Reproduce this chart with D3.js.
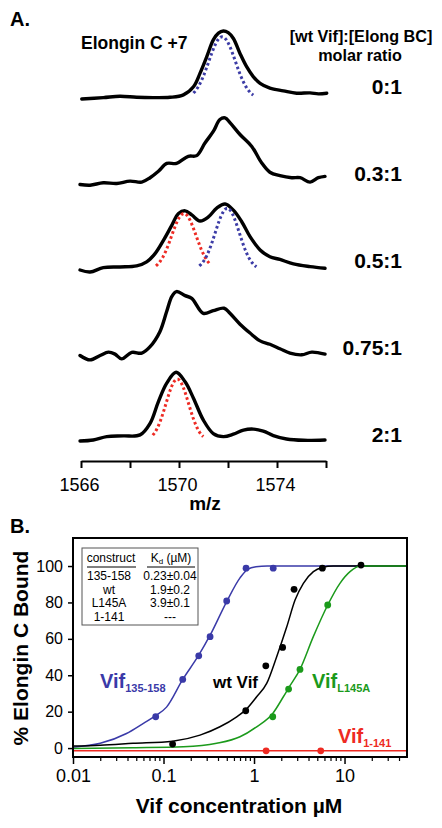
<!DOCTYPE html>
<html><head><meta charset="utf-8">
<script src="https://cdn.jsdelivr.net/npm/d3@7"></script>
<style>
body{margin:0;background:#fff}
svg{display:block}
text{font-family:"Liberation Sans",Arial,Helvetica,sans-serif}
</style>
</head><body>
<svg id="chart" width="442" height="828"></svg>
<script>
// ---------- Panel A data ----------
const ratios = ["0:1", "0.3:1", "0.5:1", "0.75:1", "2:1"];
const mzTicks = [1566, 1568, 1570, 1572, 1574, 1576];
const mzLabels = [1566, 1570, 1574];
// [m/z, relative intensity %]
const spec0 = [[1566.03,0],[1566.91,2],[1567.59,4],[1568.27,2.5],[1568.95,2],[1569.63,2.5],[1570.18,6],[1570.59,18],[1570.86,38],[1571.13,62],[1571.40,87],[1571.61,97],[1571.81,100],[1572.01,97.5],[1572.22,89],[1572.49,67],[1572.76,47.5],[1573.03,33],[1573.31,23],[1573.71,16],[1574.26,12],[1574.80,8.5],[1575.35,9],[1575.69,7.5],[1576.03,8.5]];
const spec1 = [[1565.96,0],[1566.37,-1],[1566.91,2.5],[1567.46,1.5],[1568.00,5],[1568.48,3.5],[1568.82,10],[1569.16,19.5],[1569.50,31],[1569.90,31],[1570.38,41.5],[1570.72,42.5],[1571.06,61],[1571.40,78],[1571.67,95.5],[1571.88,98],[1572.08,91],[1572.49,73.5],[1572.97,56],[1573.37,32],[1573.71,18],[1574.12,13],[1574.60,10],[1574.94,10],[1575.35,3.5],[1575.69,10],[1575.96,12]];
const spec2 = [[1565.96,0],[1566.37,-3],[1566.91,3.5],[1567.59,4.5],[1568.27,6],[1568.68,12],[1569.03,24.5],[1569.37,44],[1569.71,66],[1569.98,83],[1570.25,87],[1570.52,81],[1570.86,72],[1571.20,78],[1571.54,91],[1571.88,97],[1572.22,88],[1572.56,71],[1572.90,49],[1573.31,29.5],[1573.71,19.5],[1574.12,15.5],[1574.67,9],[1575.35,5],[1575.96,2.5]];
const spec3 = [[1565.96,0],[1566.37,-6.5],[1566.78,0],[1567.12,5],[1567.39,2],[1567.66,-5],[1568.07,4.5],[1568.48,3.5],[1568.82,13],[1569.22,35],[1569.50,65],[1569.71,87],[1569.90,94],[1570.25,88],[1570.52,84],[1570.99,62],[1571.40,66],[1571.84,69.5],[1572.08,62],[1572.49,46],[1572.90,33],[1573.31,21.5],[1573.71,16.5],[1574.12,10],[1574.53,3.5],[1575.01,1],[1575.42,5],[1575.96,2]];
const spec4 = [[1565.96,0],[1566.50,1.5],[1567.05,6.5],[1567.73,7.5],[1568.41,9],[1568.82,26],[1569.16,58],[1569.50,85],[1569.88,101],[1570.25,87],[1570.59,63],[1570.99,31],[1571.40,11],[1571.81,6.5],[1572.22,10],[1572.63,16],[1573.03,17.5],[1573.44,14.5],[1573.85,8],[1574.39,3],[1575.08,1],[1575.96,1.5]];
const spectra = [spec0, spec1, spec2, spec3, spec4];
// Gaussian fits: which trace, species, centre, amplitude, sigma, drawn range
const fitTrace  = ["0:1", "0.5:1", "0.5:1", "2:1"];
const fitSpecies = ["free", "bound", "free", "bound"];
const fitCenter = [1571.76, 1570.20, 1571.97, 1569.93];
const fitAmp    = [91.6, 83, 90.7, 91];
const fitSigma  = [0.54, 0.50, 0.49, 0.46];
const fitFrom   = [1570.59, 1569.06, 1570.83, 1568.93];
const fitTo     = [1573.03, 1571.29, 1573.16, 1570.99];

// ---------- Panel B data ----------
const concTicks = [0.01, 0.1, 1, 10];
const pctTicks = [0, 20, 40, 60, 80, 100];
const seriesNames = ["Vif135-158", "wt Vif", "VifL145A", "Vif1-141"];
const ptsBlue  = [[0.082,17.2],[0.163,37.7],[0.245,50.7],[0.327,61.2],[0.499,80.8],[0.817,98.8],[1.63,98.8]];
const ptsBlack = [[0.126,2.2],[0.81,20.5],[1.35,45.2],[2.07,55.3],[2.77,87.2],[5.69,98.8],[15.2,100.5]];
const ptsGreen = [[1.61,17.2],[2.41,32.4],[3.22,43.2],[6.52,78.6]];
const ptsRed   = [[1.36,-1.5],[5.46,-1.5]];
const fitBlue  = [[0.01,0.5],[0.02,2.6],[0.039,8],[0.06,13.6],[0.082,17.8],[0.108,22.5],[0.163,37.7],[0.245,51],[0.327,62],[0.499,80.5],[0.70,93.5],[0.85,98.2],[1.05,99.6],[1.4,100],[49,100]];
const fitBlack = [[0.01,1.1],[0.02,1.6],[0.046,2.6],[0.126,3.8],[0.253,7.1],[0.42,11.7],[0.644,17.2],[0.81,21],[1.07,28.2],[1.38,35.5],[1.78,50.2],[2.30,66.6],[2.84,81.3],[3.51,90.5],[4.53,96.9],[5.69,99.2],[7.5,100],[49,100]];
const fitGreen = [[0.01,-0.2],[0.046,0.2],[0.166,0.7],[0.387,2.6],[0.70,6.2],[1.07,11.7],[1.61,19],[2.11,28.2],[2.41,33],[3.22,43.2],[4.52,61.2],[6.52,78.6],[8.9,90.5],[11.5,96.9],[15.2,100],[49,100]];
const fitRed   = [[0.01,-1.5],[49,-1.5]];
const tableConstruct = ["135-158", "wt", "L145A", "1-141"];
const tableKd = ["0.23\u00b10.04", "1.9\u00b10.2", "3.9\u00b10.1", "---"];

const svg = d3.select("#chart");
const FONT = '"Liberation Sans",Arial,Helvetica,sans-serif';

// ================= PANEL A =================
const xA = d3.scaleLinear().domain([1566, 1576]).range([81, 326]);
const baseA = d3.scalePoint().domain(ratios).range([99, 441]);
const labelA = d3.scalePoint().domain(ratios).range([94, 442]);
const yA = d3.scaleLinear().domain([0, 100]).range([0, -68]);

svg.append("text").attr("x", 10).attr("y", 26).attr("font-size", 20).attr("font-weight", "bold").text("A.");
svg.append("text").attr("x", 81).attr("y", 49).attr("font-size", 17.5).attr("font-weight", "bold").text("Elongin C +7");
svg.append("text").attr("x", 361).attr("y", 42).attr("text-anchor", "middle").attr("font-size", 16.2).attr("font-weight", "bold").text("[wt Vif]:[Elong BC]");
svg.append("text").attr("x", 360).attr("y", 60.5).attr("text-anchor", "middle").attr("font-size", 16.2).attr("font-weight", "bold").text("molar ratio");

const lineA = d3.line().x(d => xA(d[0])).y(d => yA(d[1])).curve(d3.curveCatmullRom.alpha(0.5));

ratios.forEach((r, i) => {
  const g = svg.append("g").attr("transform", `translate(0,${baseA(r)})`);
  g.append("path").datum(spectra[i]).attr("d", lineA)
    .attr("fill", "none").attr("stroke", "#000").attr("stroke-width", 3.4)
    .attr("stroke-linejoin", "round").attr("stroke-linecap", "round");
  svg.append("text").attr("x", 402).attr("y", labelA(r)).attr("text-anchor", "end")
    .attr("font-size", 21).attr("font-weight", "bold").text(r);
});

const speciesColor = {free: "#3c3ca6", bound: "#ee2b24"};
fitTrace.forEach((r, k) => {
  const pts = d3.range(0, 41).map(j => {
    const m = fitFrom[k] + (fitTo[k] - fitFrom[k]) * j / 40;
    return [m, fitAmp[k] * Math.exp(-((m - fitCenter[k]) ** 2) / (2 * fitSigma[k] ** 2))];
  });
  svg.append("g").attr("transform", `translate(0,${baseA(r)})`)
    .append("path").datum(pts).attr("d", d3.line().x(d => xA(d[0])).y(d => yA(d[1])))
    .attr("fill", "none").attr("stroke", speciesColor[fitSpecies[k]])
    .attr("stroke-width", 3).attr("stroke-dasharray", "2.6,2.6");
});

const axA = svg.append("g").attr("transform", "translate(0,461)")
  .call(d3.axisBottom(xA).tickValues(mzTicks).tickSize(7).tickSizeOuter(0).tickPadding(10)
    .tickFormat(d => mzLabels.includes(d) ? d : ""));
axA.select(".domain").attr("stroke-width", 2);
axA.selectAll(".tick line").attr("stroke-width", 2);
axA.selectAll(".tick text").attr("font-size", 18).attr("font-family", FONT).attr("dx", -2);
svg.append("text").attr("x", 205).attr("y", 510).attr("text-anchor", "middle").attr("font-size", 19).attr("font-weight", "bold").text("m/z");

// ================= PANEL B =================
const L = 73, R = 407, T = 538, B = 757;
const xB = d3.scaleLog().domain([0.01, 49]).range([L, R]);
const yB = d3.scaleLinear().domain([-4.9, 115.4]).range([B, T]);

svg.append("text").attr("x", 10).attr("y", 533).attr("font-size", 20).attr("font-weight", "bold").text("B.");

// axes
const axY = svg.append("g").attr("transform", `translate(${L},0)`)
  .call(d3.axisLeft(yB).tickValues(pctTicks).tickSize(5).tickPadding(5));
axY.select(".domain").remove();
axY.selectAll(".tick line").attr("stroke-width", 1.5);
axY.selectAll(".tick text").attr("font-size", 16).attr("font-family", FONT);

const minorTicks = [];
[0.01, 0.1, 1, 10].forEach(dec => { for (let m = 2; m <= 9; m++) { const v = dec * m; if (v <= 49) minorTicks.push(v); } });
const axXm = svg.append("g").attr("transform", `translate(0,${B})`)
  .call(d3.axisBottom(xB).tickValues(minorTicks).tickSize(4).tickFormat(""));
axXm.select(".domain").remove();
axXm.selectAll(".tick line").attr("stroke-width", 1.2);
const axX = svg.append("g").attr("transform", `translate(0,${B})`)
  .call(d3.axisBottom(xB).tickValues(concTicks).tickSize(7).tickPadding(5).tickFormat(d => d3.format("~g")(d)));
axX.select(".domain").remove();
axX.selectAll(".tick line").attr("stroke-width", 1.5);
axX.selectAll(".tick text").attr("font-size", 18).attr("font-family", FONT);

svg.append("text").attr("transform", `translate(28,648) rotate(-90)`).attr("text-anchor", "middle")
  .attr("font-size", 21).attr("font-weight", "bold").text("% Elongin C Bound");
svg.append("text").attr("x", 239).attr("y", 813).attr("text-anchor", "middle")
  .attr("font-size", 21).attr("font-weight", "bold").text("Vif concentration \u00b5M");

// curves and points
const colors = ["#3a3aa8", "#000000", "#1b9a1b", "#ee2a22"];
const fits = [fitBlue, fitBlack, fitGreen, fitRed];
const pts = [ptsBlue, ptsBlack, ptsGreen, ptsRed];
const plot = svg.append("g");
const clip = svg.append("clipPath").attr("id", "clipB").append("rect")
  .attr("x", L).attr("y", T).attr("width", R - L).attr("height", B - T);
const lineB = d3.line().x(d => xB(d[0])).y(d => yB(d[1])).curve(d3.curveMonotoneX);
fits.forEach((f, i) => {
  plot.append("path").datum(f).attr("d", lineB).attr("clip-path", "url(#clipB)")
    .attr("fill", "none").attr("stroke", colors[i]).attr("stroke-width", 1.5);
});
pts.forEach((p, i) => {
  plot.selectAll(null).data(p).enter().append("circle")
    .attr("cx", d => xB(d[0])).attr("cy", d => yB(d[1])).attr("r", 3.4).attr("fill", colors[i]);
});

svg.append("rect").attr("x", L).attr("y", T).attr("width", R - L).attr("height", B - T)
  .attr("fill", "none").attr("stroke", "#000").attr("stroke-width", 2);

// series labels
function seriesLabel(x, y, main, sub, color, fs, sfs) {
  const t = svg.append("text").attr("x", x).attr("y", y).attr("fill", color)
    .attr("font-weight", "bold").attr("font-size", fs);
  t.append("tspan").text(main);
  if (sub) t.append("tspan").attr("font-size", sfs).attr("dy", 4).text(sub);
}
seriesLabel(100, 688, "Vif", "135-158", colors[0], 20, 11);
seriesLabel(213, 688, "wt Vif", "", colors[1], 17, 11);
seriesLabel(312, 688, "Vif", "L145A", colors[2], 20, 11);
seriesLabel(338, 743, "Vif", "1-141", colors[3], 20, 11);

// table
const tb = svg.append("g");
tb.append("rect").attr("x", 82).attr("y", 548).attr("width", 116).attr("height", 77)
  .attr("fill", "#fff").attr("stroke", "#555").attr("stroke-width", 1);
tb.append("text").attr("x", 111).attr("y", 562).attr("text-anchor", "middle").attr("font-size", 12).text("construct");
const kd = tb.append("text").attr("x", 171).attr("y", 562).attr("text-anchor", "middle").attr("font-size", 12);
kd.append("tspan").text("K");
kd.append("tspan").attr("font-size", 8).attr("dy", 2).text("d");
kd.append("tspan").attr("dy", -2).text(" (\u00b5M)");
tb.append("line").attr("x1", 87).attr("x2", 136).attr("y1", 567).attr("y2", 567).attr("stroke", "#000").attr("stroke-width", 1.2);
tb.append("line").attr("x1", 147).attr("x2", 195).attr("y1", 567).attr("y2", 567).attr("stroke", "#000").attr("stroke-width", 1.2);
const rowY = d3.scalePoint().domain(tableConstruct).range([580, 621]);
tableConstruct.forEach((c, i) => {
  tb.append("text").attr("x", 109).attr("y", rowY(c)).attr("text-anchor", "middle").attr("font-size", 12).text(c);
  tb.append("text").attr("x", 170).attr("y", rowY(c)).attr("text-anchor", "middle").attr("font-size", 12).text(tableKd[i]);
});
</script>
</body></html>
